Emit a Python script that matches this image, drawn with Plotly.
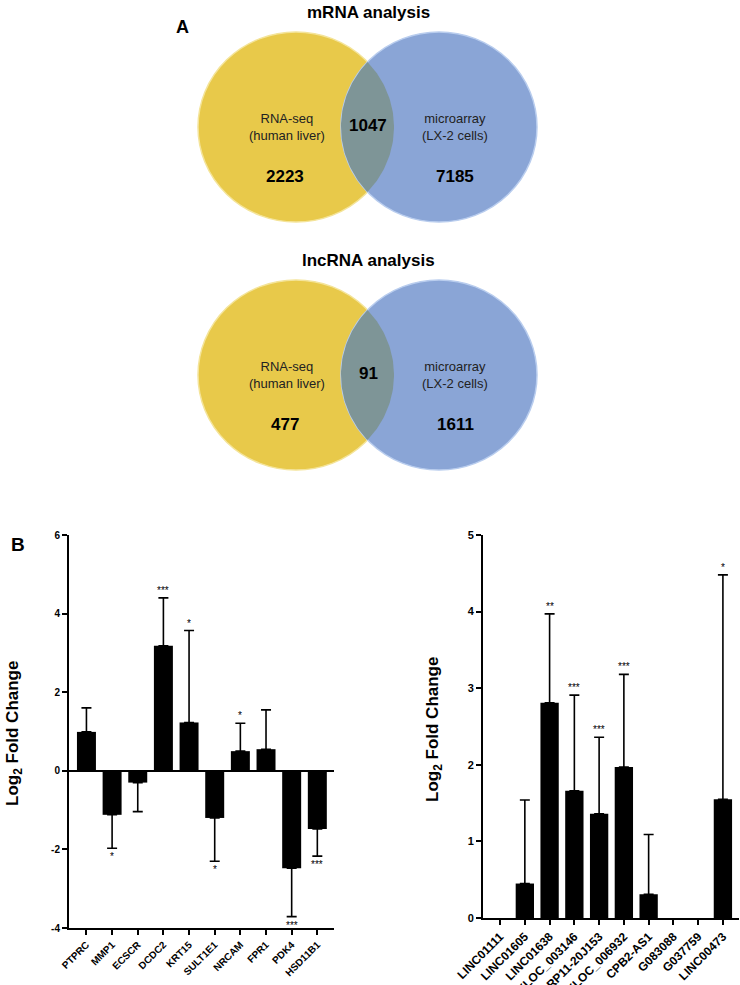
import numpy as np
import plotly.graph_objects as go

# ---------------- data ----------------
venn_titles = ["mRNA analysis", "lncRNA analysis"]
venn_left_label = "RNA-seq<br>(human liver)"
venn_right_label = "microarray<br>(LX-2 cells)"
venn_left_only = [2223, 477]
venn_overlap = [1047, 91]
venn_right_only = [7185, 1611]

mrna_genes = ["PTPRC", "MMP1", "ECSCR", "DCDC2", "KRT15", "SULT1E1", "NRCAM", "FPR1", "PDK4", "HSD11B1"]
mrna_log2fc = [0.99, -1.12, -0.30, 3.18, 1.23, -1.20, 0.50, 0.55, -2.48, -1.48]
mrna_sd = [0.61, 0.85, 0.74, 1.22, 2.34, 1.10, 0.71, 1.00, 1.23, 0.69]
mrna_sig = ["", "*", "", "***", "*", "*", "*", "", "***", "***"]

lnc_genes = ["LINC01111", "LINC01605", "LINC01638", "XLOC_003146", "RP11-20J153",
             "XLOC_006932", "CPB2-AS1", "G083088", "G037759", "LINC00473"]
lnc_log2fc = [0.0, 0.45, 2.81, 1.66, 1.36, 1.97, 0.31, 0.0, 0.0, 1.55]
lnc_sd = [0.0, 1.09, 1.16, 1.25, 1.00, 1.21, 0.78, 0.0, 0.0, 2.93]
lnc_sig = ["", "", "**", "***", "***", "***", "", "", "", "*"]

mrna_yticks = [-4, -2, 0, 2, 4, 6]
lnc_yticks = [0, 1, 2, 3, 4, 5]

# ---------------- styles ----------------
W, H = 740, 985
FONT = "Liberation Sans"
YELLOW = "#E8C94A"
BLUE = "#8AA5D6"
OVERLAP = "#7E9597"

fig = go.Figure()

# canvas axis (pixel coords) for Venn diagrams and free text
fig.update_layout(
    xaxis=dict(domain=[0, 1], range=[0, W], visible=False, fixedrange=True, automargin=False),
    yaxis=dict(domain=[0, 1], range=[H, 0], visible=False, fixedrange=True, automargin=False),
)

venn_cy = [127, 375]
venn_cx = [296, 439]
venn_r = 98
venn_ry = 95
shapes = []
annotations = []


def lens(c1, c2, r, ry, cy, n=60):
    d = c2 - c1
    a = d / 2.0
    h = np.sqrt(r * r - a * a)
    t1 = np.arctan2(h, a)
    th = np.linspace(-t1, t1, n)
    x1 = c1 + r * np.cos(th)
    y1 = cy + ry * np.sin(th)
    t2 = np.arctan2(h, a - d)
    th2 = np.linspace(t2, 2 * np.pi - t2, n)
    x2 = c2 + r * np.cos(th2)
    y2 = cy + ry * np.sin(th2)
    return np.concatenate([x1, x2]), np.concatenate([y1, y2])


for i, cy in enumerate(venn_cy):
    cl, cr = venn_cx
    shapes.append(dict(type="circle", xref="x", yref="y", x0=cl - venn_r, x1=cl + venn_r,
                       y0=cy - venn_ry, y1=cy + venn_ry, fillcolor=YELLOW,
                       line=dict(color="#F4E49A", width=1.5), layer="below"))
    shapes.append(dict(type="circle", xref="x", yref="y", x0=cr - venn_r, x1=cr + venn_r,
                       y0=cy - venn_ry, y1=cy + venn_ry, fillcolor=BLUE,
                       line=dict(color="#B9CDEE", width=1.5), layer="below"))
    lx, ly = lens(cl, cr, venn_r, venn_ry, cy)
    fig.add_trace(go.Scatter(x=lx, y=ly, xaxis="x", yaxis="y", mode="lines", fill="toself",
                             fillcolor=OVERLAP, line=dict(width=0, color=OVERLAP),
                             hoverinfo="skip", showlegend=False))
    annotations.append(dict(x=368, y=cy - 115, xref="x", yref="y", text="<b>%s</b>" % venn_titles[i],
                            showarrow=False, font=dict(family=FONT, size=17, color="black")))
    annotations.append(dict(x=287, y=cy, xref="x", yref="y", text=venn_left_label,
                            showarrow=False, font=dict(family=FONT, size=13, color="#222")))
    annotations.append(dict(x=455, y=cy, xref="x", yref="y", text=venn_right_label,
                            showarrow=False, font=dict(family=FONT, size=13, color="#222")))
    annotations.append(dict(x=285, y=cy + 49, xref="x", yref="y", text="<b>%d</b>" % venn_left_only[i],
                            showarrow=False, font=dict(family=FONT, size=17, color="black")))
    annotations.append(dict(x=455, y=cy + 49, xref="x", yref="y", text="<b>%d</b>" % venn_right_only[i],
                            showarrow=False, font=dict(family=FONT, size=17, color="black")))
    annotations.append(dict(x=368, y=cy - 2, xref="x", yref="y", text="<b>%d</b>" % venn_overlap[i],
                            showarrow=False, font=dict(family=FONT, size=17, color="black")))

annotations.append(dict(x=182, y=27, xref="x", yref="y", text="<b>A</b>", showarrow=False,
                        font=dict(family=FONT, size=18, color="black")))
annotations.append(dict(x=18, y=544, xref="x", yref="y", text="<b>B</b>", showarrow=False,
                        font=dict(family=FONT, size=19, color="black")))


# ---------------- bar charts ----------------
def add_bars(genes, vals, sd, sig, xa, ya):
    idx = list(range(len(genes)))
    fig.add_trace(go.Bar(x=idx, y=vals, xaxis=xa, yaxis=ya, width=0.74,
                         marker=dict(color="black", line=dict(width=0)),
                         showlegend=False))
    ex = [i for i in idx if sd[i] > 0]
    ey = [vals[i] for i in ex]
    plus = [sd[i] if vals[i] >= 0 else 0 for i in ex]
    minus = [sd[i] if vals[i] < 0 else 0 for i in ex]
    fig.add_trace(go.Scatter(x=ex, y=ey, xaxis=xa, yaxis=ya, mode="markers",
                             marker=dict(size=1, color="black", opacity=0),
                             error_y=dict(type="data", symmetric=False, array=plus, arrayminus=minus,
                                          color="black", thickness=1.6, width=5),
                             showlegend=False, hoverinfo="skip"))
    for i, (v, s, t) in enumerate(zip(vals, sd, sig)):
        if not t:
            continue
        if v >= 0:
            annotations.append(dict(x=i, y=v + s, xref=xa, yref=ya, text=t, showarrow=False,
                                    yanchor="bottom", yshift=0,
                                    font=dict(family=FONT, size=10, color="black")))
        else:
            annotations.append(dict(x=i, y=v - s, xref=xa, yref=ya, text=t, showarrow=False,
                                    yanchor="top", yshift=-1,
                                    font=dict(family=FONT, size=10, color="black")))


def px_dom_x(a, b):
    return [a / W, b / W]


def px_dom_y(top, bottom):
    return [(H - bottom) / H, (H - top) / H]


add_bars(mrna_genes, mrna_log2fc, mrna_sd, mrna_sig, "x2", "y2")
add_bars(lnc_genes, lnc_log2fc, lnc_sd, lnc_sig, "x3", "y3")


def axis_style(size):
    return dict(showline=True, linecolor="black", linewidth=2, ticks="outside",
                ticklen=5, tickwidth=2, tickcolor="black", showgrid=False, fixedrange=True,
                automargin=False,
                tickfont=dict(family=FONT, size=size, color="black", weight="bold"))


fig.update_layout(
    xaxis2=dict(domain=px_dom_x(69, 334), anchor="y2", range=[-0.68, 9.65],
                tickmode="array", tickvals=list(range(len(mrna_genes))), ticktext=mrna_genes,
                tickangle=-45, zeroline=False, **axis_style(10)),
    yaxis2=dict(domain=px_dom_y(535, 928), anchor="x2", range=[-4, 6],
                tickmode="array", tickvals=mrna_yticks, ticktext=[str(t) for t in mrna_yticks],
                zeroline=True, zerolinecolor="black", zerolinewidth=2, **axis_style(10)),
    xaxis3=dict(domain=px_dom_x(483, 739), anchor="y3", range=[-0.69, 9.65],
                tickmode="array", tickvals=list(range(len(lnc_genes))), ticktext=lnc_genes,
                tickangle=-45, zeroline=False, **axis_style(12)),
    yaxis3=dict(domain=px_dom_y(535, 918), anchor="x3", range=[0, 5],
                tickmode="array", tickvals=lnc_yticks, ticktext=[str(t) for t in lnc_yticks],
                zeroline=False, **axis_style(11)),
)

annotations.append(dict(x=14, y=734, xref="x", yref="y", text="<b>Log<sub>2</sub> Fold Change</b>",
                        textangle=-90, showarrow=False, font=dict(family=FONT, size=17, color="black")))
annotations.append(dict(x=434, y=730, xref="x", yref="y", text="<b>Log<sub>2</sub> Fold Change</b>",
                        textangle=-90, showarrow=False, font=dict(family=FONT, size=17, color="black")))

fig.update_layout(
    width=W, height=H, margin=dict(l=0, r=0, t=0, b=0, autoexpand=False),
    paper_bgcolor="white", plot_bgcolor="rgba(0,0,0,0)",
    shapes=shapes, annotations=annotations, bargap=0.26,
    font=dict(family=FONT, color="black"),
)

fig.write_html("out.html", config={"displayModeBar": False, "staticPlot": True},
               post_script="document.body.style.margin='0';document.body.style.overflow='hidden';")
